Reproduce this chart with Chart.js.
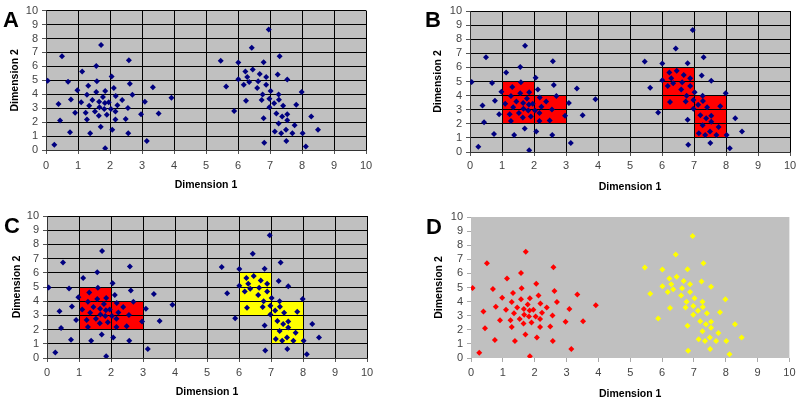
<!DOCTYPE html>
<html><head><meta charset="utf-8">
<script src="https://cdn.jsdelivr.net/npm/chart.js@4.4.1/dist/chart.umd.min.js"></script>
<style>
html,body{margin:0;padding:0;background:#fff;width:800px;height:402px;overflow:hidden;}
.panel{position:absolute;}
.panel canvas{display:block;}
.letter{position:absolute;font-family:"Liberation Sans",Arial,sans-serif;font-weight:bold;font-size:22px;line-height:22px;color:#000;}
</style></head><body>
<div class="panel" style="left:0;top:0;width:400px;height:200px"><canvas id="cA" width="400" height="200"></canvas></div>
<div class="panel" style="left:400px;top:0;width:400px;height:200px"><canvas id="cB" width="400" height="200"></canvas></div>
<div class="panel" style="left:0;top:200px;width:400px;height:202px"><canvas id="cC" width="400" height="202"></canvas></div>
<div class="panel" style="left:400px;top:200px;width:400px;height:202px"><canvas id="cD" width="400" height="202"></canvas></div>
<div class="letter" style="left:3px;top:9px">A</div>
<div class="letter" style="left:425px;top:9px">B</div>
<div class="letter" style="left:4px;top:215px">C</div>
<div class="letter" style="left:426px;top:216px">D</div>
<script>
// ---- data ----
const tickValues = [0,1,2,3,4,5,6,7,8,9,10];
const xTitle = "Dimension 1";
const yTitle = "Dimension 2";
const leftX = [1.72,0.50,2.59,1.57,1.13,2.05,0.05,0.69,1.59,2.62,1.32,3.34,2.12,0.98,1.85,1.57,1.28,2.70,2.18,1.78,3.92,0.78,2.38,1.45,1.10,1.66,1.96,1.84,3.09,0.39,1.35,2.23,1.67,1.82,2.03,2.56,1.53,0.91,1.24,2.17,3.52,2.97,1.90,1.65,0.44,1.28,2.17,2.49,1.71,2.07,0.75,1.38,2.57,3.15,0.26,1.85];
const leftY = [7.53,6.72,6.44,6.03,5.63,5.27,4.96,4.89,4.94,4.75,4.61,4.51,4.44,4.28,4.23,4.16,3.97,3.97,3.87,3.80,3.75,3.63,3.59,3.59,3.42,3.47,3.42,3.37,3.47,3.30,3.18,3.21,3.06,2.95,2.95,3.02,2.76,2.68,2.68,2.76,2.61,2.57,2.52,2.45,2.11,2.19,2.19,2.23,1.66,1.45,1.28,1.21,1.21,0.64,0.38,0.12];
const rightX = [6.96,6.43,7.30,5.46,6.01,6.80,6.23,6.46,6.68,7.24,6.29,6.88,6.01,6.63,6.35,7.54,5.63,6.18,6.88,6.60,7.02,7.99,6.77,7.27,6.98,7.28,6.74,7.13,6.25,7.41,7.82,6.98,5.88,7.20,7.54,7.38,8.29,6.80,7.54,7.27,7.77,8.50,7.15,7.50,7.35,7.70,8.02,7.51,6.82,8.12];
const rightY = [8.65,7.34,6.72,6.41,6.27,6.29,5.63,5.77,5.46,5.42,5.23,5.23,5.08,4.94,4.87,5.06,4.56,4.68,4.68,4.44,4.23,4.16,3.99,3.99,3.68,3.61,3.59,3.35,3.54,3.18,3.25,3.06,2.80,2.61,2.57,2.40,2.40,2.28,2.14,1.90,1.78,1.45,1.33,1.45,1.21,1.21,1.21,0.64,0.52,0.26];
// regions as [x0, x1, y0, y1]
const leftRegion = [[1,2,2,5],[2,3,2,4]];
const rightRegion = [[6,7,3,6],[7,8,1,4]];

// ---- rendering ----
Chart.defaults.font.family = '"Liberation Sans", Arial, sans-serif';
const NAVY = '#000080', RED = '#FF0000', YELLOW = '#FFFF00', PLOT = '#C0C0C0';

const areaPlugin = {
  id: 'area',
  beforeDraw(chart, args, opts) {
    const {ctx, chartArea: a, scales: {x, y}} = chart;
    ctx.save();
    ctx.fillStyle = PLOT;
    ctx.fillRect(a.left, a.top, a.right - a.left, a.bottom - a.top);
    (opts.boxes || []).forEach(b => {
      const x0 = x.getPixelForValue(b.r[0]), x1 = x.getPixelForValue(b.r[1]);
      const y0 = y.getPixelForValue(b.r[2]), y1 = y.getPixelForValue(b.r[3]);
      ctx.fillStyle = b.color;
      ctx.fillRect(x0, y1, x1 - x0, y0 - y1);
    });
    ctx.restore();
  }
};

function pts(xs, ys) { return xs.map((v, i) => ({x: v, y: ys[i]})); }

function makeChart(id, p) {
  const H = document.getElementById(id).height;
  const gridColor = p.grid ? '#000' : 'rgba(0,0,0,0)';
  const tickFont = {size: 11};
  const titleFont = {size: 10.5, weight: 'bold'};
  const setTicks = s => { s.ticks = tickValues.map(v => ({value: v})); };
  new Chart(document.getElementById(id), {
    type: 'scatter',
    data: {
      datasets: [
        {data: pts(leftX, leftY), backgroundColor: p.leftColor, pointStyle: 'rectRot', pointRadius: 3, borderWidth: 0, pointHoverRadius: 3},
        {data: pts(rightX, rightY), backgroundColor: p.rightColor, pointStyle: 'rectRot', pointRadius: 3, borderWidth: 0, pointHoverRadius: 3}
      ]
    },
    options: {
      responsive: false, animation: false, events: [],
      layout: {padding: {left: 0, top: p.top, right: 400 - p.right, bottom: 0}},
      plugins: {legend: {display: false}, tooltip: {enabled: false}, area: {boxes: p.boxes}},
      scales: {
        x: {
          type: 'linear', min: 0, max: 10,
          afterBuildTicks: setTicks,
          afterFit: s => { s.height = H - p.bottom; },
          grid: {color: gridColor, lineWidth: 1, drawTicks: true, tickLength: 4, tickColor: p.grid ? '#555' : '#aaa'},
          border: {display: p.grid, color: '#333'},
          ticks: {font: tickFont, color: '#444', padding: p.xPad, maxRotation: 0, autoSkip: false},
          title: {display: true, text: xTitle, font: titleFont, color: '#000', padding: {top: 0, bottom: p.xTitlePad}}
        },
        y: {
          type: 'linear', min: 0, max: 10,
          afterBuildTicks: setTicks,
          afterFit: s => { s.width = p.left; },
          grid: {color: gridColor, lineWidth: 1, drawTicks: true, tickLength: 4, tickColor: p.grid ? '#555' : '#aaa'},
          border: {display: p.grid, color: '#333'},
          ticks: {font: tickFont, color: '#444', padding: 4, autoSkip: false},
          title: {display: true, text: yTitle, font: titleFont, color: '#000', padding: {top: p.yTitlePad, bottom: 0}}
        }
      }
    },
    plugins: [areaPlugin]
  });
}

makeChart('cA', {left: 46, right: 366, top: 10, bottom: 150, xPad: 5, xTitlePad: 9, yTitlePad: 9, grid: true,
  leftColor: NAVY, rightColor: NAVY, boxes: []});
makeChart('cB', {left: 70, right: 390, top: 11, bottom: 152, xPad: 3, xTitlePad: 7, yTitlePad: 32, grid: true,
  leftColor: NAVY, rightColor: NAVY,
  boxes: leftRegion.map(r => ({r, color: RED})).concat(rightRegion.map(r => ({r, color: RED})))});
makeChart('cC', {left: 47, right: 367, top: 16, bottom: 158, xPad: 4.5, xTitlePad: 4, yTitlePad: 10.5, grid: true,
  leftColor: NAVY, rightColor: NAVY,
  boxes: leftRegion.map(r => ({r, color: RED})).concat(rightRegion.map(r => ({r, color: YELLOW})))});
makeChart('cD', {left: 71, right: 391, top: 17, bottom: 158, xPad: 4.5, xTitlePad: 2, yTitlePad: 33, grid: false,
  leftColor: RED, rightColor: YELLOW, boxes: []});
</script>
</body></html>
